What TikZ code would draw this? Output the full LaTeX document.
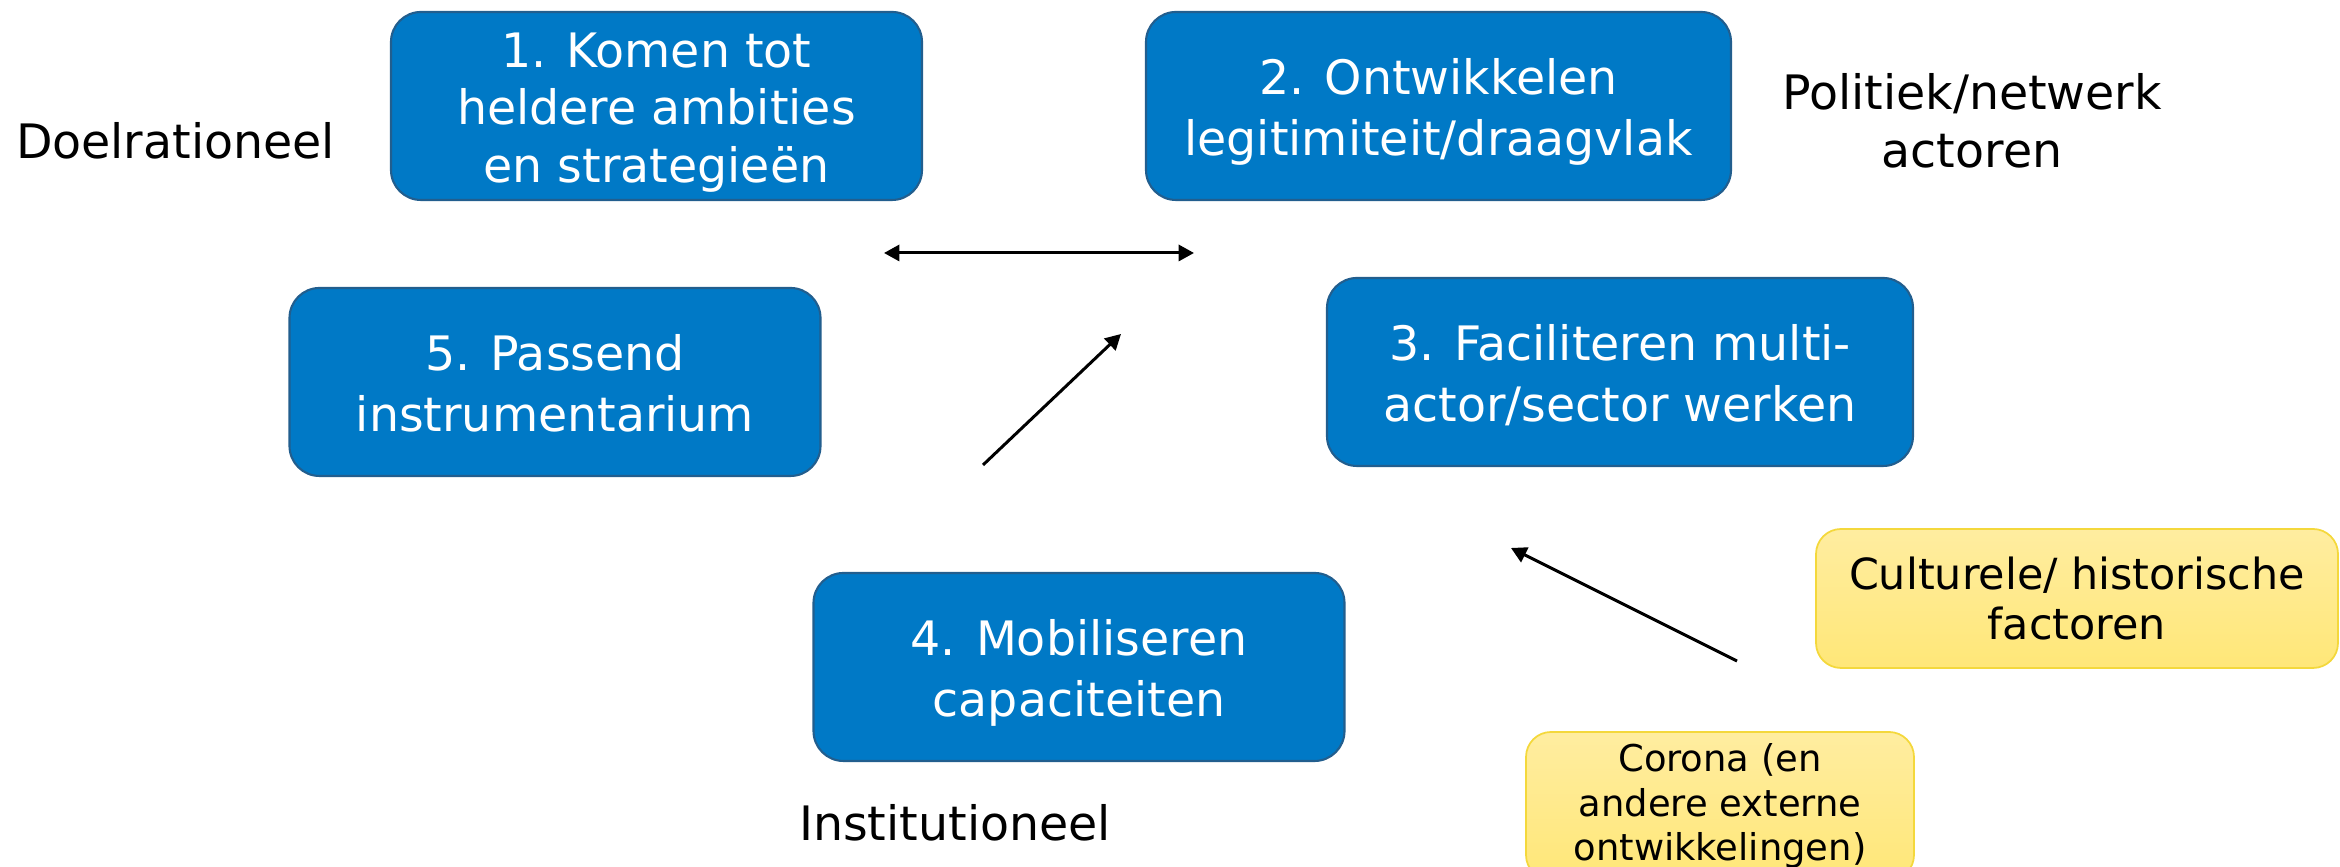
\documentclass[tikz,border=0pt]{standalone}
\usepackage{fontspec}
\setmainfont{DejaVu Sans}
\usetikzlibrary{arrows.meta}
\definecolor{stepblue}{RGB}{0,121,198}
\definecolor{stepedge}{RGB}{34,94,142}
\definecolor{factortop}{RGB}{255,237,160}
\definecolor{factorbot}{RGB}{255,231,120}
\definecolor{factoredge}{RGB}{244,216,60}
% line pad, so that the text sits in the box as in the slide
\newcommand{\lp}{\rule[-0.21em]{0pt}{1.215em}}
\tikzset{
  stepbox/.style={draw=stepedge, line width=0.6pt, fill=stepblue, rounded corners=0.3cm,
    text=white, align=center, minimum height=1.88cm, inner sep=0pt,
    font=\fontsize{13.5}{16.4}\selectfont},
  factorbox/.style={draw=factoredge, line width=0.5pt, top color=factortop, bottom color=factorbot,
    rounded corners=0.25cm, align=center, inner sep=0pt},
  sidelabel/.style={align=center, inner sep=0pt, font=\fontsize{13.5}{16.4}\selectfont},
  link/.style={line width=0.85pt, -{Triangle[length=4.4pt,width=4.6pt]}},
  twolink/.style={line width=0.85pt, {Triangle[length=4.4pt,width=4.6pt]}-{Triangle[length=4.4pt,width=4.6pt]}}
}
\begin{document}
\begin{tikzpicture}
  \useasboundingbox (0,0) rectangle (23.4,8.67);
  % the five steps
  \node[stepbox, minimum width=5.31cm] (ambitie) at (6.565,7.61) {\lp 1. Komen tot\\heldere ambities\\en strategieën\lp};
  \node[stepbox, minimum width=5.85cm] (draagvlak) at (14.385,7.61) {\lp 2. Ontwikkelen\\legitimiteit/draagvlak\lp};
  \node[stepbox, minimum width=5.86cm] (multiactor) at (16.20,4.95) {\lp 3. Faciliteren multi-\\actor/sector werken\lp};
  \node[stepbox, minimum width=5.31cm] (capaciteit) at (10.79,2.00) {\lp 4. Mobiliseren\\capaciteiten\lp};
  \node[stepbox, minimum width=5.31cm] (instrument) at (5.55,4.85) {\lp 5. Passend\\instrumentarium\lp};

  % side labels
  \node[sidelabel] (doel) at (1.755,7.26) {Doelrationeel};
  \node[sidelabel] (politiek) at (19.72,7.46) {Politiek/netwerk\\actoren};
  \node[sidelabel] (institutie) at (9.55,0.44) {Institutioneel};

  % outside factors
  \node[factorbox, minimum width=5.22cm, minimum height=1.39cm, font=\fontsize{12.2}{14.3}\selectfont]
    (cultuur) at (20.77,2.685) {Culturele/ historische\\factoren};
  \node[factorbox, minimum width=3.88cm, minimum height=1.48cm, font=\fontsize{10.5}{12.6}\selectfont]
    (corona) at (17.2,0.61) {Corona (en\\andere externe\\ontwikkelingen)};

  % arrows
  \coordinate (linksA) at (8.84,6.14);
  \coordinate (rechtsA) at (11.94,6.14);
  \coordinate (diagStart) at (9.83,4.02);
  \coordinate (diagEind) at (11.21,5.33);
  \coordinate (factorStart) at (17.37,2.06);
  \coordinate (factorEind) at (15.11,3.19);
  \draw[twolink] (linksA) -- (rechtsA);
  \draw[link] (diagStart) -- (diagEind);
  \draw[link] (factorStart) -- (factorEind);
\end{tikzpicture}
\end{document}
